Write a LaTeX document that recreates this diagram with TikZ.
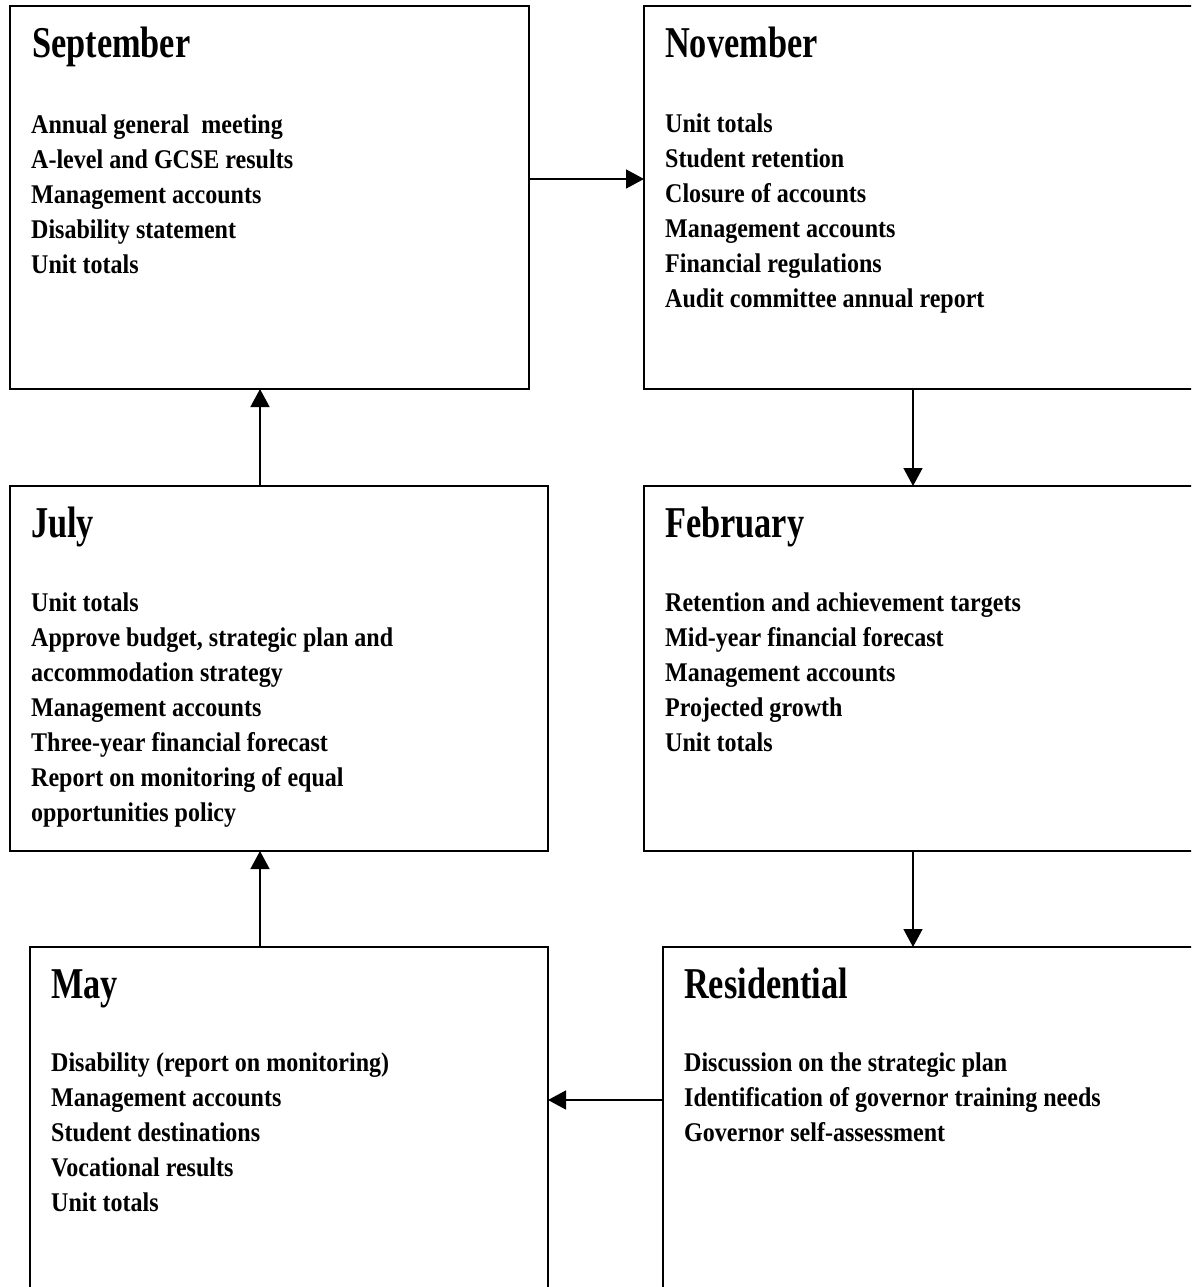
\documentclass[tikz,border=0pt]{standalone}
\usepackage{fontspec}
\usetikzlibrary{arrows.meta}
\newfontfamily\titlefont{Liberation Serif}[FakeStretch=0.78]
\newfontfamily\itemfont{Liberation Serif}[FakeStretch=0.89]
\tikzset{
  box/.style={draw=black, line width=1.8pt, rectangle, inner sep=0pt, outer sep=0pt, anchor=north west},
  ttl/.style={anchor=base west, inner sep=0pt, font=\titlefont\bfseries\fontsize{44}{50}\selectfont},
  itm/.style={anchor=base west, inner sep=0pt, font=\itemfont\bfseries\fontsize{27}{35}\selectfont},
  arr/.style={line width=1.5pt, -{Triangle[length=18pt,width=19pt]}}
}
\begin{document}
\begin{tikzpicture}[x=1pt,y=-1pt]
\useasboundingbox (0,0) rectangle (1191,1287);
\clip (0,0) rectangle (1191,1287);
% boxes
\node[box, minimum width=519pt, minimum height=383pt] (sep) at (10,6) {};
\node[box, minimum width=556pt, minimum height=383pt] (nov) at (644,6) {};
\node[box, minimum width=538pt, minimum height=365pt] (jul) at (10,486) {};
\node[box, minimum width=556pt, minimum height=365pt] (feb) at (644,486) {};
\node[box, minimum width=518pt, minimum height=360pt] (may) at (30,947) {};
\node[box, minimum width=537pt, minimum height=360pt] (res) at (663,947) {};
% titles
\node[ttl] (sept) at (32,58) {September};
\node[ttl] (novt) at (665,58) {November};
\node[ttl] (jult) at (31,537) {July};
\node[ttl] (febt) at (665,537) {February};
\node[ttl] (mayt) at (51,998) {May};
\node[ttl] (rest) at (684,998) {Residential};
% items
\foreach \t [count=\i] in {{Annual general~ meeting},{A-level and GCSE results},{Management accounts},{Disability statement},{Unit totals}}
  \node[itm] (sepi\i) at (31,{133+35*(\i-1)}) {\t};
\foreach \t [count=\i] in {{Unit totals},{Student retention},{Closure of accounts},{Management accounts},{Financial regulations},{Audit committee annual report}}
  \node[itm] (novi\i) at (665,{132+35*(\i-1)}) {\t};
\foreach \t [count=\i] in {{Unit totals},{Approve budget, strategic plan and},{accommodation strategy},{Management accounts},{Three-year financial forecast},{Report on monitoring of equal},{opportunities policy}}
  \node[itm] (juli\i) at (31,{611+35*(\i-1)}) {\t};
\foreach \t [count=\i] in {{Retention and achievement targets},{Mid-year financial forecast},{Management accounts},{Projected growth},{Unit totals}}
  \node[itm] (febi\i) at (665,{611+35*(\i-1)}) {\t};
\foreach \t [count=\i] in {{Disability (report on monitoring)},{Management accounts},{Student destinations},{Vocational results},{Unit totals}}
  \node[itm] (mayi\i) at (51,{1071+35*(\i-1)}) {\t};
\foreach \t [count=\i] in {{Discussion on the strategic plan},{Identification of governor training needs},{Governor self-assessment}}
  \node[itm] (resi\i) at (684,{1071+35*(\i-1)}) {\t};
% connector guides
\coordinate (lc) at (260,0);
\coordinate (rc) at (913,0);
\coordinate (r1) at (0,179);
\coordinate (r2) at (0,1100);
% connectors
\draw[arr] (sep.east |- r1) -- (nov.west |- r1);
\draw[arr] (nov.south -| rc) -- (feb.north -| rc);
\draw[arr] (feb.south -| rc) -- (res.north -| rc);
\draw[arr] (res.west |- r2) -- (may.east |- r2);
\draw[arr] (may.north -| lc) -- (jul.south -| lc);
\draw[arr] (jul.north -| lc) -- (sep.south -| lc);
\end{tikzpicture}
\end{document}
